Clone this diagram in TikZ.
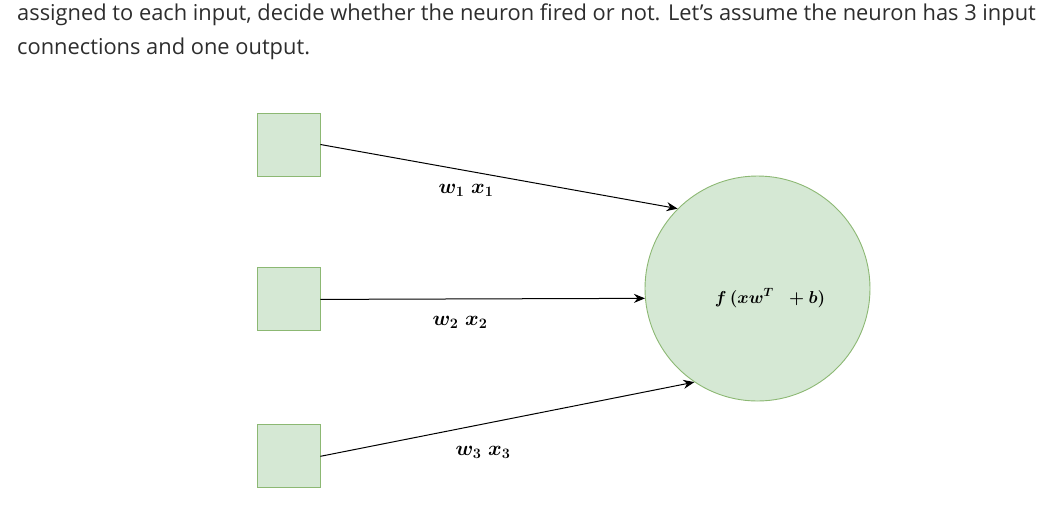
\documentclass[tikz,border=0pt]{standalone}
\usepackage{xcolor}
\usepackage{amsmath}
\usepackage{fontspec}
\setmainfont{Open Sans}
\usepackage{tikz}
\usetikzlibrary{shapes,arrows,arrows.meta,positioning,calc}
\definecolor{cellgreen}{RGB}{213,232,212}
\definecolor{edgegreen}{RGB}{140,184,115}
\definecolor{textgray}{RGB}{45,45,45}

\begin{document}
\begin{tikzpicture}[
    x=1pt, y=-1pt,
    input/.style={rectangle, draw=edgegreen, fill=cellgreen, line width=0.9pt, minimum width=63pt, minimum height=63pt, inner sep=0pt},
    neuron/.style={circle, draw=edgegreen, fill=cellgreen, line width=0.9pt, minimum size=225pt, inner sep=0pt},
    weight/.style={font=\fontsize{20}{24}\selectfont\boldmath},
    para/.style={anchor=base west, inner sep=0pt, text=textgray, font=\fontsize{21.85}{25}\selectfont},
    arrow/.style={->, >={Stealth[length=11pt, width=9pt]}, line width=1pt}
]
    \useasboundingbox (0,0) rectangle (1047,507);

    % text above the figure
    \node[para] (l1) at (17,20) {assigned to each input, decide whether the neuron fired or not. Let’s assume the neuron has 3 input};
    \node[para] (l2) at (17,54) {connections and one output.};

    % inputs and neuron
    \node[input] (x1) at (288.5,144.5) {};
    \node[input, below=91pt of x1] (x2) {};
    \node[input, below=93pt of x2] (x3) {};
    \node[neuron] (n) at (757.5,288.5) {};
    \node[weight, font=\fontsize{17.5}{20}\selectfont\boldmath] (f) at (770,298) {$f\,(xw^{T}\;\; + b)$};

    \draw[arrow] (x1.east) -- (n.135);
    \draw[arrow] (x2.east) -- (n.185);
    \draw[arrow] (x3.east) -- (n.236);

    % weights
    \node[weight] (w1) at (466,190) {$w_1\; x_1$};
    \node[weight] (w2) at (460,322) {$w_2\; x_2$};
    \node[weight] (w3) at (483,452) {$w_3\; x_3$};
\end{tikzpicture}
\end{document}
